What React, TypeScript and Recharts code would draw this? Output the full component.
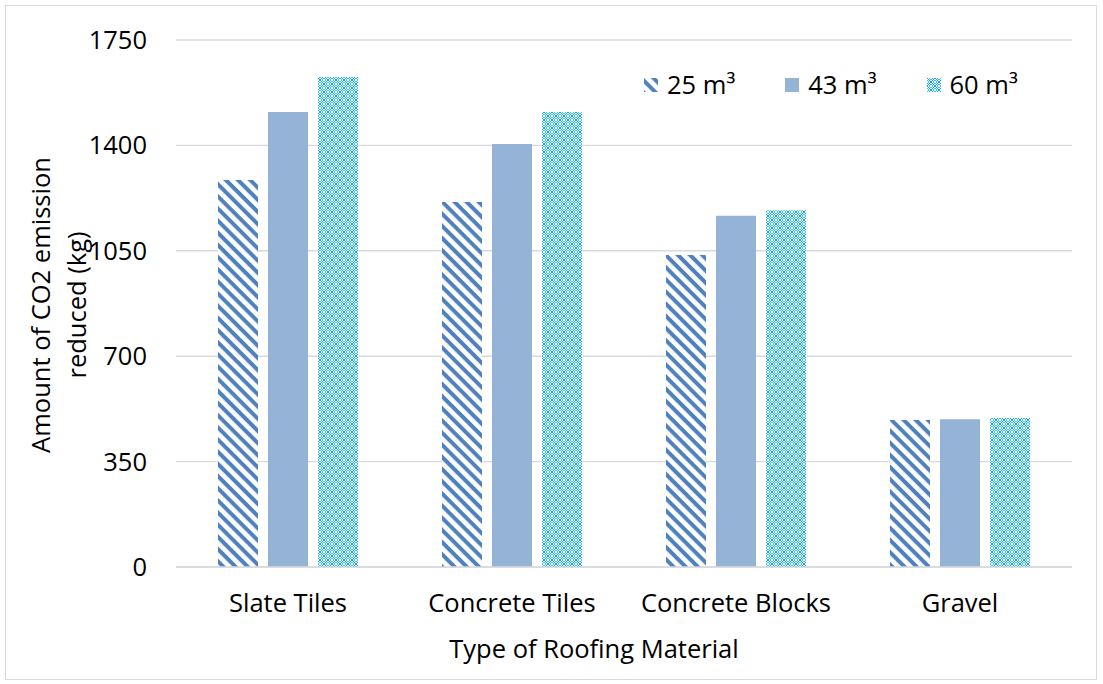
import { BarChart, Bar, XAxis, YAxis, CartesianGrid, Legend } from 'recharts'

// Roofing materials and CO2 reduction (kg) per tank volume
const MATERIALS = ['Slate Tiles', 'Concrete Tiles', 'Concrete Blocks', 'Gravel']
const VOL_25 = [1285, 1212, 1036, 488]
const VOL_43 = [1511, 1405, 1166, 491]
const VOL_60 = [1627, 1511, 1185, 495]
const Y_TICKS = [0, 350, 700, 1050, 1400, 1750]

const SERIES = [
    { key: 'v25', name: '25 m³', fill: 'url(#hatch25)' },
    { key: 'v43', name: '43 m³', fill: '#95b3d7' },
    { key: 'v60', name: '60 m³', fill: 'url(#lattice60)' },
]

const FONT = '"Open Sans", sans-serif'
const FONT_SIZE = 25.5
const GRID = '#d9d9d9'

// 8x8 tile for the cyan lattice fill (C = dark, L = light)
const LATTICE_TILE = [
    'C.L..L.C',
    '.C.LL.C.',
    'L.C..C.L',
    '.L.CC.L.',
    '.L.CC.L.',
    'L.C..C.L',
    '.C.LL.C.',
    'C.L..L.C',
]

const data = MATERIALS.map((name, i) => ({
    name,
    v25: VOL_25[i],
    v43: VOL_43[i],
    v60: VOL_60[i],
}))

function Patterns() {
    return (
        <defs>
            <pattern id="hatch25" patternUnits="userSpaceOnUse" width="8.6" height="8.6" patternTransform="rotate(45)">
                <rect width="8.6" height="8.6" fill="#fff" />
                <rect width="8.6" height="4" fill="#4f81bd" />
            </pattern>
            <pattern id="lattice60" patternUnits="userSpaceOnUse" width="8" height="8">
                <rect width="8" height="8" fill="#fff" />
                {LATTICE_TILE.map((row, y) =>
                    row.split('').map((c, x) =>
                        c === '.' ? null : (
                            <rect key={`${x}-${y}`} x={x} y={y} width="1" height="1" fill={c === 'C' ? '#00a8ee' : '#3dbdf2'} />
                        )
                    )
                )}
            </pattern>
        </defs>
    )
}

function LegendContent() {
    return (
        <div style={{ display: 'flex', gap: 50, fontFamily: FONT, fontSize: FONT_SIZE, color: '#000', lineHeight: 1 }}>
            {SERIES.map((s) => (
                <div key={s.key} style={{ display: 'flex', alignItems: 'center', gap: 9 }}>
                    <svg width="14" height="14">
                        <rect width="14" height="14" fill={s.fill} />
                    </svg>
                    <span>{s.name}</span>
                </div>
            ))}
        </div>
    )
}

export default function App() {
    return (
        <div style={{ position: 'relative', width: 1103, height: 684, background: '#fff' }}>
            <style>{`body { margin: 0; }`}</style>
            <div
                style={{
                    position: 'absolute',
                    left: 5,
                    top: 5,
                    width: 1090,
                    height: 673,
                    border: `1px solid ${GRID}`,
                }}
            />
            <BarChart
                width={1103}
                height={684}
                data={data}
                margin={{ top: 40, right: 31, bottom: 57, left: 0 }}
                barCategoryGap="18.75%"
                barGap={10}
                style={{ position: 'absolute', left: 0, top: 0 }}
            >
                <Patterns />
                <CartesianGrid vertical={false} stroke={GRID} strokeWidth={1.4} />
                <XAxis
                    dataKey="name"
                    height={60}
                    tickLine={false}
                    axisLine={{ stroke: GRID, strokeWidth: 1.4 }}
                    tickSize={0}
                    tickMargin={27}
                    tick={{ fill: '#000', fontSize: FONT_SIZE, fontFamily: FONT }}
                    label={{
                        content: ({ viewBox }: any) => (
                            <text
                                x={viewBox.x + 418}
                                y={648}
                                textAnchor="middle"
                                dominantBaseline="central"
                                fontFamily={FONT}
                                fontSize={FONT_SIZE}
                                fill="#000"
                            >
                                Type of Roofing Material
                            </text>
                        ),
                    }}
                />
                <YAxis
                    width={176}
                    domain={[0, 1750]}
                    ticks={Y_TICKS}
                    axisLine={false}
                    tickLine={false}
                    tickSize={0}
                    tickMargin={29}
                    tick={{ fill: '#000', fontSize: FONT_SIZE, fontFamily: FONT }}
                    label={{
                        content: ({ viewBox }: any) => {
                            const cy = viewBox.y + 265
                            return (
                                <g fontFamily={FONT} fontSize={FONT_SIZE} fill="#000">
                                    <text x={40} y={cy} textAnchor="middle" dominantBaseline="central" transform={`rotate(-90, 40, ${cy})`}>
                                        Amount of CO2 emission
                                    </text>
                                    <text x={76} y={cy} textAnchor="middle" dominantBaseline="central" transform={`rotate(-90, 76, ${cy})`}>
                                        reduced (kg)
                                    </text>
                                </g>
                            )
                        },
                    }}
                />
                <Legend
                    layout="horizontal"
                    verticalAlign="middle"
                    align="center"
                    content={<LegendContent />}
                    wrapperStyle={{ position: 'absolute', left: 644, top: 72, width: 420 }}
                />
                {SERIES.map((s) => (
                    <Bar key={s.key} dataKey={s.key} name={s.name} fill={s.fill} isAnimationActive={false} />
                ))}
            </BarChart>
        </div>
    )
}
